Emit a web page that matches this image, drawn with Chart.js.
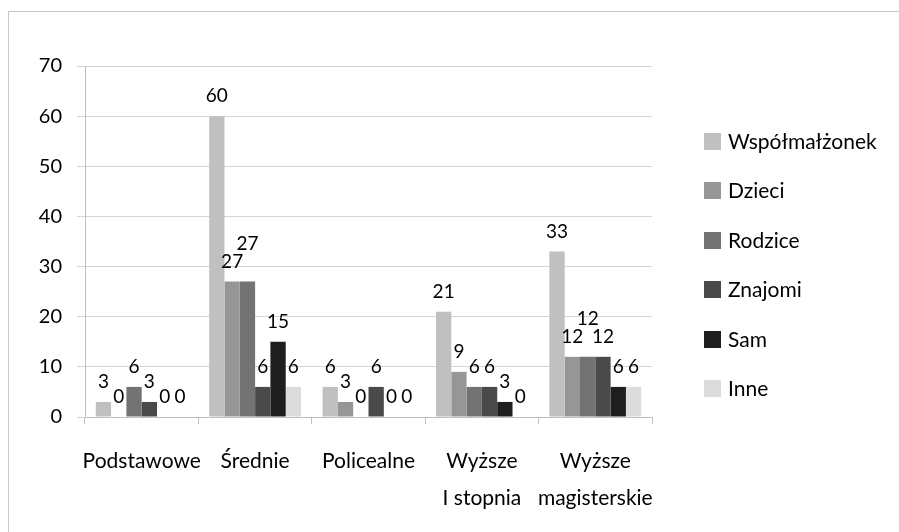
<!DOCTYPE html>
<html>
<head>
<meta charset="utf-8">
<script src="https://cdn.jsdelivr.net/npm/chart.js@4.4.0/dist/chart.umd.min.js"></script>
<style>
html, body { margin: 0; padding: 0; background: #fff; }
#wrap { width: 899px; height: 532px; }
</style>
</head>
<body>
<div id="wrap"><canvas id="barChart"></canvas></div>
<script>
const categories = ['Podstawowe', 'Średnie', 'Policealne', ['Wyższe', 'I stopnia'], ['Wyższe', 'magisterskie']];
const seriesNames = ['Współmałżonek', 'Dzieci', 'Rodzice', 'Znajomi', 'Sam', 'Inne'];
const wspolmalzonek = [3, 60, 6, 21, 33];
const dzieci = [0, 27, 3, 9, 12];
const rodzice = [6, 27, 0, 6, 12];
const znajomi = [3, 6, 6, 6, 12];
const sam = [0, 15, 0, 3, 6];
const inne = [0, 6, 0, 0, 6];
const seriesColors = ['#c0c0c0', '#969696', '#737373', '#4a4a4a', '#1e1e1e', '#dcdcdc'];

const FONT = 'Lato';
const TXT = '#000';

// ramka wokół wykresu
const framePlugin = {
    id: 'frame',
    beforeDraw(chart) {
        const ctx = chart.ctx;
        ctx.save();
        ctx.strokeStyle = '#c8c8c8';
        ctx.lineWidth = 1;
        ctx.strokeRect(8.5, 11.5, 1000, 1000);
        ctx.restore();
    }
};

// etykiety wartości nad słupkami (podnoszone, gdy na siebie nachodzą)
const valueLabels = {
    id: 'valueLabels',
    afterDatasetsDraw(chart) {
        const ctx = chart.ctx;
        ctx.save();
        ctx.font = '19px ' + FONT;
        ctx.fillStyle = TXT;
        ctx.textAlign = 'center';
        ctx.textBaseline = 'middle';
        const n = chart.data.labels.length;
        for (let j = 0; j < n; j++) {
            const boxes = [];
            chart.data.datasets.forEach(function(ds, i) {
                const bar = chart.getDatasetMeta(i).data[j];
                const txt = String(ds.data[j]);
                const w = ctx.measureText(txt).width;
                let y = bar.y - 20;
                let moved = true;
                while (moved) {
                    moved = false;
                    boxes.forEach(function(b) {
                        if (Math.abs(b.x - bar.x) < (b.w + w) / 2 && Math.abs(b.y - y) < 16) {
                            y = b.y - 18;
                            moved = true;
                        }
                    });
                }
                boxes.push({ x: bar.x, y: y, w: w });
                ctx.fillText(txt, bar.x, y);
            });
        }
        ctx.restore();
    }
};

// legenda po prawej
const sideLegend = {
    id: 'sideLegend',
    afterDraw(chart) {
        const ctx = chart.ctx;
        ctx.save();
        ctx.font = '21px ' + FONT;
        ctx.textBaseline = 'middle';
        ctx.textAlign = 'left';
        chart.data.datasets.forEach(function(ds, i) {
            const y = 141 + i * 49.5;
            ctx.fillStyle = ds.backgroundColor;
            ctx.fillRect(704, Math.round(y - 8.5), 17, 17);
            ctx.fillStyle = TXT;
            ctx.fillText(ds.label, 728, y + 1);
        });
        ctx.restore();
    }
};

const seriesData = [wspolmalzonek, dzieci, rodzice, znajomi, sam, inne];
const datasets = seriesNames.map(function(name, i) {
    return {
        label: name,
        data: seriesData[i],
        backgroundColor: seriesColors[i],
        borderWidth: 0,
        categoryPercentage: 0.81,
        barPercentage: 1.0
    };
});

const ctx = document.getElementById('barChart').getContext('2d');
new Chart(ctx, {
    type: 'bar',
    data: { labels: categories, datasets: datasets },
    options: {
        responsive: true,
        maintainAspectRatio: false,
        animation: false,
        layout: { padding: { top: 66, right: 247, bottom: 0, left: 0 } },
        plugins: {
            legend: { display: false },
            tooltip: { enabled: false }
        },
        scales: {
            x: {
                offset: true,
                grid: {
                    offset: true,
                    drawOnChartArea: false,
                    drawTicks: true,
                    tickLength: 7,
                    color: '#bfbfbf'
                },
                border: { color: '#bfbfbf' },
                ticks: {
                    color: TXT,
                    font: { family: FONT, size: 21, lineHeight: 1.76 },
                    padding: 19,
                    maxRotation: 0,
                    autoSkip: false
                },
                afterFit(scale) { scale.height = 115; }
            },
            y: {
                min: 0,
                max: 70,
                grid: {
                    color: '#d4d4d4',
                    tickLength: 8
                },
                border: { color: '#bfbfbf' },
                ticks: {
                    stepSize: 10,
                    color: TXT,
                    font: { family: FONT, size: 20 },
                    padding: 15
                },
                afterFit(scale) { scale.width = 85; }
            }
        }
    },
    plugins: [framePlugin, valueLabels, sideLegend]
});
</script>
</body>
</html>
